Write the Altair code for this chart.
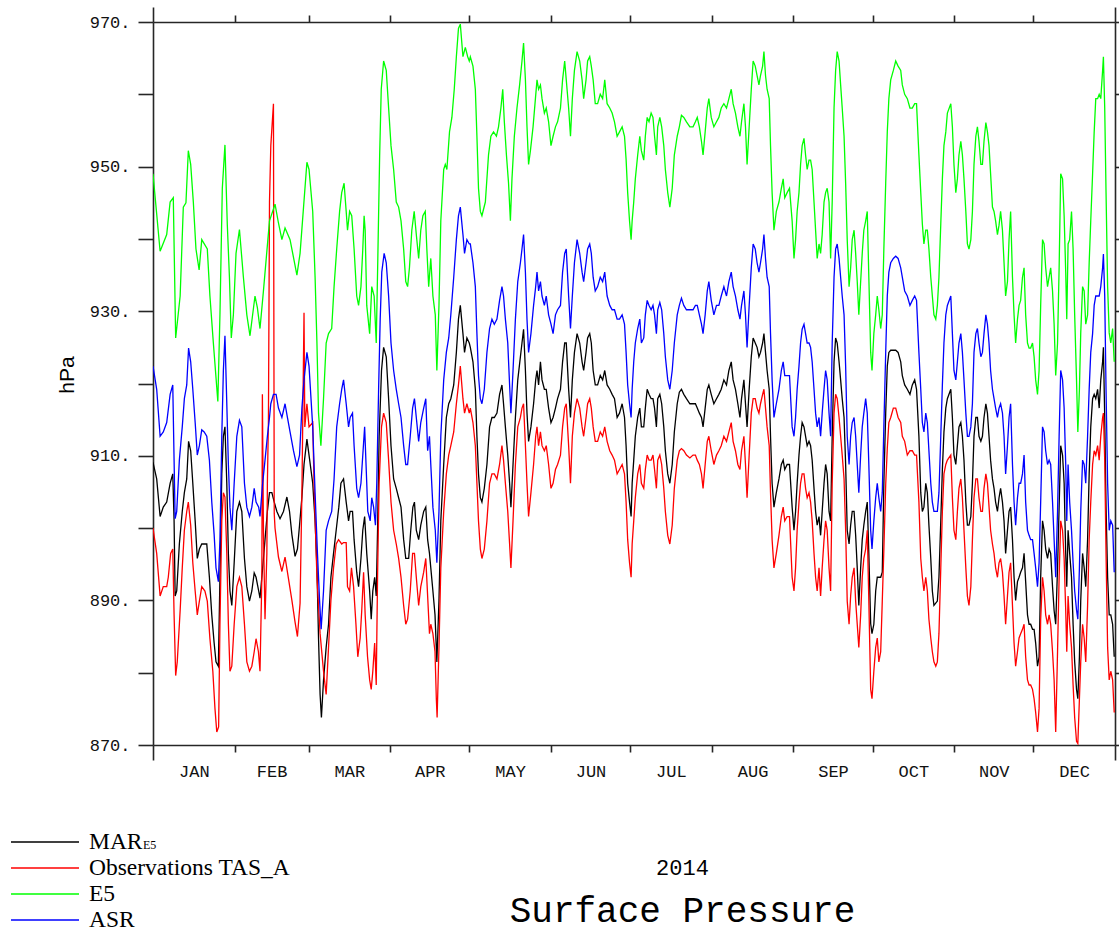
import json
import altair as alt
import pandas as pd

# ---------------- data ----------------
MONTHS = ["JAN", "FEB", "MAR", "APR", "MAY", "JUN", "JUL", "AUG", "SEP", "OCT", "NOV", "DEC"]
MONTH_STARTS = [0, 31, 59, 90, 120, 151, 181, 212, 243, 273, 304, 334, 365]
Y_TICKS = list(range(870, 971, 10))
SERIES = ["MAR_E5", "Observations TAS_A", "E5", "ASR"]
COLORS = ["#000000", "#ff0000", "#00ff00", "#0000ff"]

# (day of year 2014, surface pressure hPa)
MAR_E5 = [
    (0, 909.1), (1.4, 906.8), (2.7, 901.6), (3.9, 902.9), (5.2, 903.6), (6.5, 906.2), (7.5, 907.5), (8.0, 901.0),
    (8.4, 890.6), (9.0, 891.3), (10.0, 897.8), (11.1, 902.3), (11.9, 904.9), (12.8, 906.8), (13.5, 912.0), (14.3, 910.7),
    (15.1, 906.2), (16.0, 901.0), (16.8, 895.8), (17.6, 897.1), (18.5, 897.8), (19.4, 897.8), (20.4, 897.8), (21.4, 893.2),
    (22.3, 888.0), (23.2, 884.1), (23.9, 881.5), (24.8, 880.9), (25.4, 893.2), (26.1, 907.5), (26.7, 912.7), (27.3, 914.0),
    (28.0, 906.2), (28.6, 896.5), (29.2, 891.3), (29.9, 889.3), (30.8, 895.2), (31.8, 902.3), (32.8, 903.6), (33.7, 902.3),
    (34.7, 895.8), (35.6, 891.9), (36.6, 889.9), (37.5, 891.3), (38.4, 893.8), (39.1, 893.2), (40.1, 891.3), (40.6, 890.3),
    (41.6, 894.5), (42.5, 898.4), (43.4, 902.3), (44.2, 904.9), (45.1, 904.9), (46.0, 903.6), (47.0, 902.3), (48.2, 901.3),
    (49.5, 902.3), (50.8, 904.3), (51.8, 902.3), (52.7, 899.1), (53.9, 896.1), (54.8, 897.1), (55.6, 900.4), (56.5, 904.3),
    (57.3, 908.8), (58.4, 912.3), (59.2, 910.1),
    (60.6, 906.2), (61.5, 901.0), (62.2, 894.5), (62.8, 884.8), (63.4, 877.0), (63.9, 873.8), (64.7, 879.0), (65.7, 883.5),
    (66.6, 886.7), (67.5, 893.2), (68.5, 896.5), (69.5, 899.7), (70.5, 902.9), (71.3, 906.2), (72.3, 906.8), (73.3, 903.6),
    (74.2, 901.0), (74.8, 902.3), (75.7, 902.3), (76.3, 898.4), (77.3, 893.9), (78.0, 891.9), (78.9, 895.8), (79.6, 899.7),
    (80.3, 901.6), (81.1, 896.5), (82.2, 891.3), (82.8, 887.4), (83.4, 891.3), (84.1, 893.2), (84.7, 890.6), (85.2, 899.7),
    (85.8, 912.7), (86.7, 921.8), (87.5, 925.0), (88.5, 923.7), (89.4, 917.9), (90.3, 911.4), (91.3, 906.8), (92.3, 905.5),
    (93.2, 904.2), (94.1, 902.9), (95.1, 898.4), (95.9, 895.8), (97.0, 895.8), (97.8, 899.7), (98.6, 902.9), (99.2, 903.6),
    (99.9, 899.7), (100.8, 898.4), (101.6, 900.4), (102.7, 902.3), (103.5, 902.9), (104.2, 898.4), (104.9, 896.5), (105.4, 894.5),
    (106.2, 891.3), (107.0, 888.0), (107.7, 881.5), (108.5, 890.0), (109.2, 901.0), (110.3, 908.8), (111.3, 915.3), (112.2, 917.2),
    (113.0, 917.9), (114.1, 919.8), (115.1, 924.3), (115.9, 928.9), (116.6, 930.8), (117.6, 926.9), (118.2, 924.3), (119.1, 926.3),
    (120.0, 925.6),
    (120.4, 925.0), (121.4, 923.0), (122.3, 919.2), (122.9, 912.7), (123.5, 907.5), (124.2, 904.2), (124.8, 903.6), (125.7, 905.5),
    (126.7, 908.8), (127.7, 914.0), (128.6, 915.3), (129.5, 915.3), (130.5, 915.9), (131.5, 918.5), (132.4, 919.8), (133.0, 917.2),
    (133.7, 914.0), (134.6, 910.1), (135.3, 906.2), (135.8, 902.9), (136.6, 908.8), (137.5, 915.3), (138.4, 920.5), (139.4, 923.7),
    (140.0, 925.6), (140.6, 927.5), (141.3, 921.8), (141.9, 915.9), (142.5, 912.0), (143.4, 914.0), (144.4, 917.2), (145.2, 920.5),
    (145.7, 921.8), (146.3, 919.8), (147.0, 923.0), (147.6, 920.5), (148.5, 919.2), (149.2, 919.2), (150.1, 916.6), (151.0, 914.6),
    (151.8, 915.3), (152.7, 916.6), (153.5, 917.9), (154.6, 919.2), (155.4, 923.0), (156.2, 925.6), (156.8, 925.6), (157.7, 919.2),
    (158.4, 915.3), (159.1, 920.5), (159.9, 924.3), (160.9, 926.9), (161.9, 925.6), (162.8, 923.0), (163.4, 921.8), (164.3, 924.3),
    (164.9, 926.3), (165.7, 926.9), (166.3, 925.6), (167.0, 921.8), (167.8, 919.8), (168.7, 919.8), (169.7, 921.1), (170.6, 920.5),
    (171.4, 921.8), (172.3, 919.8), (173.3, 919.2), (174.2, 918.5), (175.1, 917.9), (176.1, 915.3), (177.0, 915.9), (178.0, 917.2),
    (178.9, 915.3), (179.5, 911.4), (180.1, 906.2), (180.8, 903.6), (181.4, 901.6),
    (181.8, 906.2), (182.4, 909.4), (183.0, 912.7), (183.9, 915.3), (184.7, 916.6), (185.3, 914.0), (186.2, 914.0), (186.8, 916.6),
    (187.5, 919.2), (188.2, 918.5), (189.0, 917.9), (189.7, 917.9), (190.3, 916.6), (191.0, 914.0), (191.5, 917.9), (192.3, 918.5),
    (193.0, 917.2), (193.8, 914.0), (194.4, 910.7), (195.3, 907.5), (196.1, 906.2), (197.0, 908.8), (197.8, 913.3), (198.9, 917.2),
    (199.7, 918.8), (200.5, 919.2), (201.4, 918.5), (202.4, 917.9), (203.7, 917.2), (204.9, 917.2), (205.8, 917.2), (206.5, 916.6),
    (207.3, 915.9), (208.1, 915.3), (208.7, 914.0), (209.5, 916.6), (210.3, 919.2), (210.9, 919.8), (211.8, 918.5), (212.8, 917.2),
    (213.8, 917.9), (214.7, 918.5), (215.6, 919.2), (216.6, 920.5), (217.6, 919.8), (218.5, 921.8), (219.4, 923.0), (220.1, 920.5),
    (221.0, 919.2), (221.9, 917.2), (222.7, 915.3), (223.3, 917.9), (224.2, 920.5), (224.8, 917.2), (225.4, 914.0), (226.2, 919.2),
    (227.0, 923.7), (227.7, 926.3), (228.5, 925.6), (229.2, 925.0), (229.9, 923.7), (230.5, 924.3), (231.3, 925.6), (231.8, 926.9),
    (232.4, 924.3), (233.0, 921.8), (233.8, 919.2), (234.3, 912.7), (234.9, 906.2), (235.6, 902.9), (236.5, 904.9), (237.5, 906.8),
    (238.4, 908.8), (239.1, 909.4), (239.7, 908.1), (240.6, 908.8), (241.5, 908.8),
    (242.5, 902.9), (243.2, 899.7), (243.8, 902.3), (244.4, 906.2), (245.1, 910.1), (245.7, 912.7), (246.3, 914.6), (247.0, 914.0),
    (247.6, 912.7), (248.2, 911.4), (248.9, 912.0), (249.5, 911.4), (250.1, 909.4), (250.8, 905.5), (251.4, 902.3), (252.0, 900.4),
    (252.7, 901.6), (253.3, 899.0), (253.9, 902.3), (254.6, 906.2), (255.2, 908.8), (255.8, 907.5), (256.5, 902.3), (257.1, 901.0),
    (257.7, 912.7), (258.4, 923.0), (259.0, 926.3), (259.6, 925.6), (260.3, 923.0), (260.9, 920.5), (261.5, 917.9), (262.2, 915.3),
    (262.8, 908.8), (263.4, 899.7), (264.1, 897.8), (264.7, 900.4), (265.3, 902.3), (266.0, 902.3), (266.6, 899.0), (267.2, 894.5),
    (267.8, 889.3), (268.5, 894.5), (269.1, 898.4), (269.7, 900.4), (270.4, 902.3), (271.0, 903.6), (271.6, 896.5), (272.3, 886.8),
    (272.8, 885.4), (273.5, 886.7), (274.2, 891.3), (274.8, 893.2), (275.4, 893.2), (276.1, 893.2), (276.7, 893.9), (277.3, 906.2),
    (278.0, 915.9), (278.6, 922.4), (279.2, 924.3), (279.9, 924.6), (280.9, 924.6), (281.8, 924.6), (282.7, 924.3), (283.7, 923.0),
    (284.3, 921.1), (285.2, 919.8), (286.2, 919.2), (287.2, 918.5), (288.1, 919.8), (289.0, 920.5), (289.7, 919.2), (290.6, 912.7),
    (291.3, 904.9), (291.9, 902.3), (292.5, 902.9), (293.2, 906.2), (293.8, 904.9), (294.4, 900.4), (295.1, 895.8), (295.7, 891.3),
    (296.3, 889.3), (297.6, 889.9), (298.2, 893.2), (298.9, 901.0), (299.5, 908.1), (300.1, 913.3), (300.8, 916.6), (301.4, 917.9),
    (302.7, 919.2), (303.3, 915.3), (303.9, 910.1), (304.6, 908.8), (305.2, 911.4), (305.8, 914.0), (306.5, 914.6), (307.1, 912.7),
    (307.7, 909.4), (308.4, 903.6), (309.0, 900.4), (309.6, 900.4), (310.3, 901.6), (310.9, 906.2), (311.5, 912.7), (312.2, 915.3),
    (312.8, 915.3), (313.4, 912.7), (314.1, 912.0), (314.7, 912.7), (315.3, 915.3), (316.0, 917.2), (316.6, 915.9), (317.2, 912.7),
    (317.8, 909.4), (318.5, 906.8), (319.1, 905.5), (319.7, 903.6), (320.4, 902.3), (321.0, 904.2), (321.6, 905.5), (322.3, 903.6),
    (322.9, 901.0), (323.5, 896.5), (324.2, 899.7), (324.8, 902.3), (325.4, 902.9), (326.1, 898.4), (326.7, 893.2), (327.3, 890.0),
    (328.0, 892.6), (328.6, 893.2), (329.2, 893.9), (329.9, 894.5), (330.5, 896.5), (331.1, 892.6), (331.8, 888.0), (332.4, 886.7),
    (333.0, 886.7), (333.7, 886.0), (334.3, 886.0), (334.9, 884.1), (335.6, 880.9), (336.2, 882.2), (336.8, 893.2), (337.5, 901.0),
    (338.1, 899.7), (338.7, 897.1), (339.4, 895.8), (340.0, 897.1), (340.6, 896.5), (341.3, 891.9), (341.9, 888.6), (342.5, 886.7),
    (343.2, 894.5), (343.8, 902.9), (344.4, 911.4), (345.1, 910.1), (345.7, 906.2), (346.3, 896.5), (346.7, 891.9), (347.2, 899.7),
    (347.8, 896.5), (348.5, 893.2), (349.1, 886.7), (349.7, 881.5), (350.4, 877.7), (350.9, 876.4), (351.5, 882.2), (352.0, 890.0),
    (352.7, 896.5), (353.3, 894.5), (353.9, 891.9), (354.6, 898.4), (355.2, 907.5), (355.8, 914.0), (356.5, 917.9), (357.1, 918.5),
    (357.7, 917.9), (358.4, 919.2), (359.0, 916.6), (359.6, 920.5), (360.3, 923.0), (360.6, 925.0), (361.1, 915.3), (361.6, 902.9),
    (362.2, 893.2), (362.8, 888.0), (363.4, 888.0), (364.1, 886.7), (364.7, 882.2),
]

OBS_TAS_A = [
    (0, 900.0), (1.4, 896.5), (2.7, 890.6), (3.9, 891.9), (5.2, 891.9), (5.8, 893.2), (6.7, 896.5), (7.5, 897.1),
    (8.0, 888.0), (8.6, 879.6), (9.2, 881.5), (10.3, 888.6), (11.1, 894.5), (11.9, 899.7), (12.8, 902.3), (13.4, 903.6),
    (14.3, 900.4), (15.1, 895.2), (16.0, 891.3), (16.8, 888.0), (17.6, 889.9), (18.5, 891.9), (19.7, 891.3), (20.6, 889.9),
    (21.6, 884.7), (22.7, 880.2), (23.5, 875.1), (24.2, 871.8), (24.9, 872.5), (25.4, 886.7), (26.1, 901.0), (26.7, 904.9),
    (27.3, 904.3), (28.0, 896.5), (28.6, 886.7), (29.2, 880.2), (29.9, 880.9), (30.8, 886.7), (31.8, 891.9), (32.8, 893.2),
    (33.7, 891.9), (34.7, 886.7), (35.6, 881.5), (36.6, 880.2), (37.5, 880.9), (38.4, 882.9), (39.1, 884.7), (40.0, 882.9),
    (40.6, 880.2), (41.3, 893.2), (41.5, 918.5), (41.9, 899.7), (42.5, 887.4), (43.2, 896.5), (43.4, 906.2), (43.8, 914.9),
    (44.2, 945.1), (44.7, 952.9), (45.7, 958.7), (46.0, 902.0), (46.3, 900.0), (47.6, 896.0), (48.9, 894.0), (50.1, 896.0),
    (51.4, 893.0), (52.7, 890.0), (53.9, 887.0), (54.8, 885.0), (55.8, 889.6), (56.5, 905.0), (57.3, 929.8), (57.6, 914.0),
    (58.4, 917.2), (59.2, 914.0),
    (60.6, 914.6), (61.1, 906.2), (62.2, 893.2), (63.4, 885.4), (64.7, 880.2), (65.7, 877.0), (66.6, 883.5), (67.5, 890.0),
    (68.5, 894.5), (69.5, 897.8), (70.4, 898.4), (71.6, 897.8), (72.3, 898.0), (73.3, 898.0), (73.8, 891.9), (74.6, 891.3),
    (75.3, 894.5), (76.1, 891.9), (77.0, 886.7), (77.7, 882.2), (78.6, 884.8), (79.2, 888.6), (79.9, 893.9), (80.5, 888.0),
    (81.4, 882.2), (82.2, 879.0), (82.8, 877.7), (83.4, 880.2), (84.1, 884.1), (84.7, 878.3), (85.2, 893.2), (85.8, 906.2),
    (86.7, 914.0), (87.5, 915.9), (88.5, 914.6), (89.4, 909.4), (90.3, 903.6), (91.3, 899.7), (92.3, 897.8), (93.2, 895.8),
    (94.1, 893.2), (95.1, 889.3), (95.9, 886.7), (96.6, 887.4), (97.6, 891.3), (98.5, 896.5), (99.2, 896.5), (99.9, 893.2),
    (100.8, 889.3), (101.6, 891.9), (102.7, 893.9), (103.5, 895.8), (104.2, 890.6), (104.9, 885.4), (105.4, 886.7), (106.2, 885.4),
    (107.0, 882.9), (107.5, 876.4), (107.8, 873.8), (108.5, 883.5), (109.2, 894.5), (110.3, 902.3), (111.3, 907.5), (112.2, 910.1),
    (113.0, 911.4), (114.1, 913.3), (115.1, 917.2), (115.9, 919.8), (116.6, 922.4), (117.6, 917.9), (118.2, 915.9), (119.1, 917.2),
    (120.0, 915.9),
    (120.4, 916.6), (121.4, 914.6), (122.3, 911.4), (122.9, 906.2), (123.5, 901.0), (124.2, 897.1), (124.8, 895.8), (125.7, 897.1),
    (126.7, 901.0), (127.7, 906.2), (128.6, 907.5), (129.5, 907.5), (130.5, 906.8), (131.5, 908.8), (132.4, 911.4), (133.0, 909.4),
    (133.7, 906.2), (134.6, 902.3), (135.3, 897.8), (135.8, 894.5), (136.6, 901.0), (137.5, 908.8), (138.4, 914.0), (139.4, 915.3),
    (140.0, 916.6), (140.6, 917.2), (141.3, 911.4), (141.9, 906.2), (142.5, 901.6), (143.4, 904.9), (144.4, 908.8), (145.2, 912.7),
    (145.7, 914.0), (146.3, 911.4), (147.0, 913.3), (147.6, 911.4), (148.5, 910.7), (149.2, 911.4), (150.1, 908.8), (151.0, 905.5),
    (151.8, 906.2), (152.7, 908.1), (153.5, 908.8), (154.6, 910.1), (155.4, 914.0), (156.2, 916.6), (156.8, 917.2), (157.7, 911.4),
    (158.4, 906.2), (159.1, 912.7), (159.9, 915.9), (160.9, 917.9), (161.9, 916.6), (162.8, 914.0), (163.4, 912.7), (164.3, 915.3),
    (164.9, 917.2), (165.7, 917.9), (166.3, 916.6), (167.0, 914.0), (167.8, 912.0), (168.7, 912.0), (169.7, 913.3), (170.6, 912.7),
    (171.4, 914.0), (172.3, 912.0), (173.3, 910.7), (174.2, 910.1), (175.1, 909.4), (176.1, 907.5), (177.0, 908.1), (178.0, 908.8),
    (178.9, 907.5), (179.5, 903.6), (180.1, 898.4), (180.8, 895.2), (181.4, 893.2),
    (181.8, 897.8), (182.4, 901.0), (183.0, 904.2), (183.9, 907.5), (184.7, 908.8), (185.3, 906.2), (186.2, 905.5), (186.8, 908.1),
    (187.5, 910.1), (188.2, 909.4), (189.0, 909.4), (189.7, 910.1), (190.3, 908.1), (191.0, 905.5), (191.5, 909.4), (192.3, 910.1),
    (193.0, 908.8), (193.8, 905.5), (194.4, 902.3), (195.3, 899.0), (196.1, 897.8), (197.0, 900.4), (197.8, 905.5), (198.9, 909.4),
    (199.7, 910.7), (200.5, 911.0), (201.4, 910.7), (202.4, 910.1), (203.7, 909.7), (204.9, 910.1), (205.8, 910.1), (206.5, 909.4),
    (207.3, 908.8), (208.1, 907.5), (208.7, 905.5), (209.5, 908.8), (210.3, 912.0), (210.9, 912.7), (211.8, 910.7), (212.8, 908.8),
    (213.8, 910.1), (214.7, 910.7), (215.6, 911.4), (216.6, 912.7), (217.6, 912.0), (218.5, 913.3), (219.4, 914.6), (220.1, 912.0),
    (221.0, 910.7), (221.9, 908.8), (222.7, 908.1), (223.3, 910.7), (224.2, 912.7), (224.8, 908.8), (225.4, 904.2), (226.2, 910.1),
    (227.0, 915.9), (227.7, 917.9), (228.5, 917.9), (229.2, 916.6), (229.9, 915.9), (230.5, 917.2), (231.3, 918.5), (231.8, 919.2),
    (232.4, 916.6), (233.0, 914.0), (233.8, 911.4), (234.3, 904.9), (234.9, 898.4), (235.6, 894.5), (236.5, 896.5), (237.5, 899.0),
    (238.4, 901.6), (239.1, 902.9), (239.7, 901.0), (240.6, 901.6), (241.5, 901.6),
    (242.5, 893.2), (243.2, 891.3), (243.8, 894.5), (244.4, 899.7), (245.1, 903.6), (245.7, 906.2), (246.3, 907.5), (247.0, 907.5),
    (247.6, 905.5), (248.2, 904.2), (248.9, 904.9), (249.5, 903.6), (250.1, 901.0), (250.8, 896.5), (251.4, 893.2), (252.0, 891.3),
    (252.7, 894.5), (253.3, 890.6), (253.9, 894.5), (254.6, 898.4), (255.2, 901.0), (255.8, 899.7), (256.5, 894.5), (257.1, 891.3),
    (257.7, 906.2), (258.4, 915.9), (259.0, 918.5), (259.6, 917.9), (260.3, 915.3), (260.9, 912.7), (261.5, 910.1), (262.2, 906.8),
    (262.8, 899.7), (263.4, 889.9), (264.1, 886.7), (264.7, 890.6), (265.3, 893.2), (266.0, 894.5), (266.6, 889.9), (267.2, 886.7),
    (267.8, 883.5), (268.5, 888.0), (269.1, 893.2), (269.7, 895.8), (270.4, 897.1), (271.0, 899.7), (271.6, 889.9), (272.3, 877.7),
    (272.8, 876.4), (273.5, 880.2), (274.2, 883.5), (274.8, 884.8), (275.4, 881.5), (276.1, 882.9), (276.7, 889.9), (277.3, 897.0),
    (278.0, 906.0), (278.6, 911.0), (279.2, 914.6), (279.9, 915.3), (280.9, 916.6), (281.8, 916.6), (282.7, 915.3), (283.7, 914.6),
    (284.3, 912.7), (285.2, 912.0), (286.2, 910.1), (287.2, 910.7), (288.1, 910.7), (289.0, 910.1), (289.7, 910.1), (290.6, 903.6),
    (291.3, 895.8), (291.9, 893.2), (292.5, 891.3), (293.2, 893.2), (293.8, 891.3), (294.4, 887.4), (295.1, 884.8), (295.7, 882.9),
    (296.3, 881.5), (297.0, 880.9), (297.6, 881.5), (298.2, 885.4), (298.9, 894.5), (299.5, 902.3), (300.1, 907.5), (300.8, 908.8),
    (301.4, 909.4),
    (302.7, 910.1), (303.3, 904.2), (303.9, 899.7), (304.6, 898.4), (305.2, 902.3), (305.8, 905.5), (306.5, 906.8), (307.1, 904.2),
    (307.7, 899.7), (308.4, 894.5), (309.0, 890.6), (309.6, 889.3), (310.3, 891.9), (310.9, 898.4), (311.5, 904.2), (312.2, 906.8),
    (312.8, 906.8), (313.4, 904.2), (314.1, 902.3), (314.7, 902.3), (315.3, 905.5), (316.0, 907.5), (316.6, 906.2), (317.2, 903.0),
    (317.8, 899.7), (318.5, 897.8), (319.1, 896.5), (319.7, 894.5), (320.4, 893.2), (321.0, 895.2), (321.6, 895.8), (322.3, 893.9),
    (322.9, 890.6), (323.5, 886.7), (324.2, 890.6), (324.8, 893.9), (325.4, 895.2), (326.1, 889.3), (326.7, 884.1), (327.3, 880.9),
    (328.0, 882.9), (328.6, 884.8), (329.2, 885.4), (329.9, 886.0), (330.5, 886.7), (331.1, 882.2), (331.8, 879.0), (332.4, 878.3),
    (333.0, 878.3), (333.7, 877.7), (334.3, 876.4), (334.9, 874.5), (335.6, 871.8), (336.2, 875.1), (336.8, 887.4), (337.5, 893.2),
    (338.1, 891.3), (338.7, 888.0), (339.4, 886.7), (340.0, 888.0), (340.6, 886.7), (341.3, 882.9), (341.9, 879.0), (342.5, 871.8),
    (343.2, 882.9), (343.8, 893.2), (344.4, 901.0), (345.1, 899.7), (345.7, 895.8), (346.3, 888.6), (346.7, 882.9), (347.2, 890.6),
    (347.8, 886.7), (348.5, 883.5), (349.1, 878.3), (349.7, 873.8), (350.4, 870.5), (350.9, 870.2), (351.5, 876.4), (352.0, 881.5),
    (352.7, 886.7), (353.3, 884.8), (353.9, 881.5), (354.6, 889.3), (355.2, 898.4), (355.8, 903.6), (356.5, 908.8), (357.1, 910.7),
    (357.7, 910.1), (358.4, 911.4), (359.0, 909.4), (359.6, 912.7), (360.3, 915.3), (360.6, 915.9), (361.1, 909.4), (361.6, 896.5),
    (362.2, 883.5), (362.8, 879.0), (363.4, 880.2), (364.1, 879.0), (364.7, 874.5),
]

E5 = [
    (0, 949.0), (2.7, 938.3), (5.2, 940.6), (6.5, 945.1), (7.7, 945.7), (8.6, 926.3), (10.3, 932.1), (11.5, 944.4),
    (12.5, 945.0), (13.4, 952.2), (14.3, 950.3), (15.3, 945.1), (16.3, 938.6), (17.5, 935.7), (18.5, 939.9), (20.6, 938.6),
    (21.6, 932.1), (22.9, 925.6), (24.6, 917.5), (25.4, 929.5), (26.3, 947.0), (27.3, 953.0), (28.2, 941.9), (29.0, 934.7),
    (29.7, 926.3), (30.5, 929.5), (31.5, 938.0), (32.8, 941.3), (34.3, 934.7), (35.6, 929.5), (36.8, 926.6), (38.7, 932.1),
    (39.6, 930.5), (40.6, 927.6), (41.9, 932.8), (44.2, 942.5), (46.3, 944.8), (47.6, 942.2), (48.9, 939.9), (50.1, 941.5),
    (52.0, 939.9), (54.6, 935.0), (55.8, 938.0), (58.4, 950.6), (59.2, 949.6),
    (60.6, 943.8), (61.5, 934.7), (62.2, 925.6), (62.8, 915.9), (63.7, 911.4), (64.7, 917.9), (65.7, 925.6), (66.6, 926.9),
    (67.8, 927.6), (68.7, 933.4), (69.7, 938.6), (70.8, 943.8), (71.6, 946.4), (72.5, 947.7), (73.3, 943.8), (73.8, 941.2),
    (74.6, 943.8), (75.4, 943.2), (76.3, 938.6), (77.3, 932.1), (78.0, 930.8), (78.9, 933.4), (79.6, 938.6), (80.1, 943.2),
    (80.5, 941.2), (81.1, 930.8), (82.2, 926.9), (83.0, 933.4), (83.9, 932.1), (84.7, 925.6), (85.3, 937.3), (86.0, 951.6),
    (86.6, 960.7), (87.5, 964.6), (88.5, 963.3), (89.4, 958.1), (90.3, 952.9), (91.3, 949.6), (92.3, 945.1), (93.2, 944.4),
    (94.1, 942.5), (95.1, 938.6), (95.9, 934.1), (96.6, 933.4), (97.3, 936.0), (98.2, 941.2), (99.1, 943.8), (99.9, 940.6),
    (100.8, 937.3), (101.6, 941.2), (102.4, 943.2), (103.3, 943.8), (103.9, 938.6), (104.6, 933.4), (105.4, 937.3), (106.2, 932.1),
    (107.1, 929.5), (107.7, 921.8), (108.5, 930.8), (109.2, 942.5), (110.3, 949.6), (110.9, 950.3), (111.5, 949.6), (112.5, 954.8),
    (113.4, 956.8), (114.3, 960.7), (115.1, 965.2), (115.9, 969.1), (116.6, 969.7), (117.6, 965.2), (118.5, 966.5), (119.4, 965.2),
    (120.0, 964.6),
    (120.4, 965.2), (121.4, 963.9), (122.3, 960.7), (122.9, 954.2), (123.5, 947.0), (124.2, 943.8), (124.8, 943.2), (126.1, 945.1),
    (127.3, 951.6), (128.2, 954.2), (129.2, 954.8), (130.3, 954.2), (131.1, 955.5), (132.0, 958.1), (132.7, 960.7), (133.3, 956.2),
    (134.1, 951.6), (134.9, 947.7), (135.6, 942.5), (136.2, 948.3), (137.1, 954.2), (138.1, 958.1), (139.1, 961.3), (140.0, 964.6),
    (140.6, 967.1), (141.3, 962.0), (141.9, 955.5), (142.5, 950.3), (143.2, 952.2), (144.2, 955.5), (145.1, 959.4), (145.7, 962.0),
    (146.3, 960.7), (147.0, 961.3), (147.6, 959.4), (148.5, 957.4), (149.2, 958.1), (150.1, 956.2), (151.0, 952.9), (151.8, 954.2),
    (152.7, 955.5), (153.5, 956.2), (154.6, 958.1), (155.4, 962.0), (156.2, 964.6), (156.8, 962.0), (157.7, 958.1), (158.4, 954.2),
    (159.1, 959.4), (159.9, 963.3), (160.9, 965.9), (161.9, 964.6), (162.8, 962.0), (163.4, 959.4), (164.3, 962.0), (164.9, 964.6),
    (165.7, 965.2), (166.3, 963.9), (167.0, 962.0), (167.8, 958.7), (168.7, 958.7), (169.7, 960.0), (170.6, 959.4), (171.4, 962.0),
    (172.3, 958.7), (173.3, 958.1), (174.2, 957.4), (175.1, 956.2), (176.1, 954.2), (177.0, 954.8), (178.0, 955.5), (178.9, 954.2),
    (179.5, 951.0), (180.1, 946.4), (180.8, 942.5), (181.4, 939.9),
    (181.8, 942.5), (182.4, 945.1), (183.0, 948.3), (183.9, 951.6), (184.7, 954.2), (185.3, 952.2), (186.2, 950.9), (186.8, 954.2),
    (187.5, 956.8), (188.2, 956.2), (189.0, 957.4), (189.7, 956.8), (190.3, 954.2), (191.0, 951.6), (191.5, 955.5), (192.3, 956.8),
    (193.0, 955.5), (193.8, 952.9), (194.4, 949.6), (195.3, 946.4), (196.1, 944.4), (197.0, 947.0), (197.8, 951.6), (198.9, 954.2),
    (199.7, 955.5), (200.5, 957.1), (201.4, 956.8), (202.4, 956.2), (203.7, 955.5), (204.9, 955.5), (205.8, 956.2), (206.5, 956.8),
    (207.3, 955.5), (208.1, 953.5), (208.7, 951.6), (209.5, 954.8), (210.3, 958.1), (210.9, 959.4), (211.8, 956.8), (212.8, 955.5),
    (213.8, 956.2), (214.7, 956.8), (215.6, 958.1), (216.6, 958.7), (217.6, 958.1), (218.5, 959.4), (219.4, 960.7), (220.1, 958.7),
    (221.0, 957.4), (221.9, 955.5), (222.7, 954.2), (223.3, 956.2), (224.2, 958.7), (224.8, 955.5), (225.4, 950.3), (226.2, 955.5),
    (227.0, 960.7), (227.7, 964.6), (228.5, 963.9), (229.2, 962.6), (229.9, 961.3), (230.5, 962.6), (231.3, 963.9), (231.8, 965.9),
    (232.4, 962.6), (233.0, 960.7), (233.8, 959.4), (234.3, 952.9), (234.9, 946.4), (235.6, 941.2), (236.5, 943.8), (237.5, 945.1),
    (238.4, 947.0), (239.1, 948.3), (239.7, 945.7), (240.6, 946.4), (241.5, 947.0),
    (242.5, 942.5), (243.2, 937.3), (243.8, 939.9), (244.4, 943.8), (245.1, 946.4), (245.7, 950.3), (246.3, 952.9), (247.0, 953.9),
    (247.6, 951.6), (248.2, 949.6), (248.9, 950.9), (249.5, 950.9), (250.1, 949.6), (250.8, 945.1), (251.4, 941.2), (252.0, 937.3),
    (252.7, 939.3), (253.3, 938.0), (253.9, 940.6), (254.6, 945.1), (255.2, 946.4), (255.8, 947.0), (256.5, 945.1), (257.1, 937.3),
    (257.7, 945.1), (258.4, 958.1), (259.0, 963.3), (259.6, 965.9), (260.3, 964.6), (260.9, 961.3), (261.5, 958.1), (262.2, 954.2),
    (262.8, 947.7), (263.4, 939.9), (264.1, 933.4), (264.7, 936.0), (265.3, 939.9), (266.0, 941.2), (266.6, 938.0), (267.2, 934.1),
    (267.8, 929.5), (268.5, 934.1), (269.1, 938.0), (269.7, 941.2), (270.4, 942.5), (271.0, 943.8), (271.6, 934.7), (272.3, 924.3),
    (272.8, 921.8), (273.5, 926.9), (274.2, 929.5), (274.8, 932.1), (275.4, 930.2), (276.1, 927.6), (276.7, 929.5), (277.3, 938.6),
    (278.0, 947.7), (278.6, 954.8), (279.2, 959.4), (279.9, 962.0), (280.9, 963.3), (281.8, 964.6), (282.7, 963.9), (283.7, 963.3),
    (284.3, 961.3), (285.2, 960.0), (286.2, 959.4), (287.2, 958.1), (288.1, 958.1), (289.0, 958.7), (289.7, 958.7), (290.6, 951.6),
    (291.3, 946.4), (291.9, 942.1), (292.5, 939.3), (293.2, 941.2), (293.8, 941.2), (294.4, 938.6), (295.1, 934.7), (295.7, 932.1),
    (296.3, 929.5), (297.0, 928.9), (297.6, 930.8), (298.2, 934.7), (298.9, 942.1), (299.5, 948.3), (300.1, 952.9), (300.8, 954.8),
    (301.4, 957.4),
    (302.7, 958.7), (303.3, 955.5), (303.9, 950.3), (304.6, 946.4), (305.2, 948.3), (305.8, 951.6), (306.5, 953.5), (307.1, 951.6),
    (307.7, 948.3), (308.4, 943.8), (309.0, 939.3), (309.6, 938.6), (310.3, 939.9), (310.9, 943.8), (311.5, 950.3), (312.2, 954.2),
    (312.8, 955.5), (313.4, 953.5), (314.1, 950.3), (314.7, 950.3), (315.3, 953.5), (316.0, 956.1), (316.6, 954.8), (317.2, 952.9),
    (317.8, 949.0), (318.5, 944.4), (319.1, 943.8), (319.7, 942.5), (320.4, 940.6), (321.0, 941.9), (321.6, 943.8), (322.3, 941.2),
    (322.9, 936.7), (323.5, 932.1), (324.2, 934.1), (324.8, 939.9), (325.4, 943.8), (326.1, 934.7), (326.7, 929.5), (327.3, 925.6),
    (328.0, 928.9), (328.6, 930.8), (329.2, 931.5), (329.9, 934.7), (330.5, 936.0), (331.1, 929.5), (331.8, 925.6), (332.4, 924.9),
    (333.0, 924.9), (333.7, 925.6), (334.3, 923.7), (334.9, 920.5), (335.6, 918.5), (336.2, 921.8), (336.8, 930.8), (337.5, 939.9),
    (338.1, 939.3), (338.7, 936.0), (339.4, 933.4), (340.0, 934.7), (340.6, 936.0), (341.3, 932.8), (341.9, 928.2), (342.5, 921.1),
    (343.2, 925.6), (343.8, 936.0), (344.4, 949.0), (345.1, 948.3), (345.7, 943.2), (346.3, 935.4), (346.7, 928.9), (347.2, 939.3),
    (347.8, 939.9), (348.5, 943.8), (349.1, 938.6), (349.7, 929.5), (350.4, 920.5), (350.9, 913.3), (351.5, 919.2), (352.0, 927.0),
    (352.7, 933.4), (353.3, 932.8), (353.9, 928.2), (354.6, 929.5), (355.2, 936.7), (355.8, 942.5), (356.5, 949.0), (357.1, 954.8),
    (357.7, 959.4), (358.4, 959.4), (359.0, 960.0), (359.6, 959.4), (360.3, 963.3), (360.6, 965.2), (361.1, 958.1), (361.6, 946.4),
    (362.2, 933.4), (362.8, 927.0), (363.4, 925.6), (364.1, 927.6), (364.7, 923.0),
]

ASR = [
    (0, 922.4), (1.4, 919.2), (2.7, 912.7), (3.9, 913.3), (5.2, 914.6), (6.5, 918.5), (7.5, 919.8), (8.0, 909.4),
    (8.4, 901.3), (9.0, 902.3), (10.0, 909.4), (11.1, 914.0), (11.9, 917.9), (12.8, 919.8), (13.5, 924.9), (14.3, 923.0),
    (15.1, 919.2), (16.0, 914.6), (16.8, 910.1), (17.6, 911.4), (18.5, 913.6), (19.4, 913.3), (20.4, 912.7), (21.4, 909.4),
    (22.3, 903.6), (23.2, 899.1), (23.9, 894.5), (24.8, 892.6), (25.4, 898.4), (26.1, 912.7), (26.7, 921.8), (27.3, 926.6),
    (28.0, 917.2), (28.6, 908.8), (29.2, 902.9), (29.9, 899.7), (30.8, 906.2), (31.8, 912.7), (32.8, 914.9), (33.7, 914.0),
    (34.7, 906.2), (35.6, 902.9), (36.6, 901.6), (37.5, 902.9), (38.4, 905.5), (39.1, 903.6), (40.1, 902.9), (40.6, 901.6),
    (41.6, 906.2), (42.5, 909.4), (43.4, 912.7), (44.2, 915.3), (44.7, 917.2), (45.7, 918.5), (46.7, 918.5), (47.6, 916.6),
    (48.9, 915.3), (50.1, 917.2), (51.0, 915.3), (52.0, 913.3), (53.3, 910.7), (54.6, 908.5), (55.6, 910.1), (56.5, 916.6),
    (57.3, 920.5), (58.4, 924.3), (59.2, 922.4),
    (60.6, 914.0), (61.5, 904.9), (62.4, 896.5), (63.2, 890.0), (63.8, 886.0), (64.7, 891.3), (65.7, 899.7), (66.6, 901.0),
    (67.8, 902.3), (68.7, 906.8), (69.7, 914.0), (70.8, 917.2), (71.6, 919.2), (72.3, 920.5), (73.3, 917.2), (74.2, 914.0),
    (74.8, 915.3), (75.7, 915.9), (76.3, 911.4), (77.3, 905.5), (78.0, 904.2), (78.9, 906.2), (79.6, 910.1), (80.3, 914.0),
    (80.8, 909.1), (81.5, 902.3), (82.4, 901.0), (83.0, 904.2), (83.7, 902.9), (84.4, 900.4), (84.9, 906.2), (85.6, 919.2),
    (86.2, 928.9), (86.8, 935.4), (87.7, 938.0), (88.5, 936.7), (89.4, 932.1), (90.3, 925.6), (91.3, 921.8), (92.3, 919.2),
    (93.2, 917.2), (94.1, 915.3), (95.1, 911.4), (95.9, 908.8), (96.6, 908.8), (97.6, 912.7), (98.5, 916.6), (99.2, 917.9),
    (99.9, 915.3), (100.8, 912.0), (101.6, 914.6), (102.7, 916.6), (103.5, 917.9), (104.2, 910.7), (104.9, 912.7), (105.4, 908.8),
    (106.2, 902.9), (107.1, 899.7), (107.7, 895.2), (108.5, 902.3), (109.2, 912.7), (110.3, 920.5), (111.3, 924.3), (112.2, 926.3),
    (113.0, 929.5), (114.1, 934.7), (115.1, 939.9), (115.9, 943.2), (116.6, 944.4), (117.6, 940.6), (118.2, 938.0), (119.1, 939.9),
    (120.0, 939.3),
    (120.4, 939.3), (121.4, 936.7), (122.3, 933.4), (122.9, 926.9), (123.5, 921.1), (124.2, 917.9), (124.8, 917.2), (125.7, 919.2),
    (126.7, 924.3), (127.7, 927.6), (128.6, 928.9), (129.5, 928.2), (130.5, 928.9), (131.5, 931.5), (132.4, 933.4), (133.0, 932.1),
    (133.7, 928.9), (134.6, 925.6), (135.3, 919.8), (135.8, 915.9), (136.6, 921.8), (137.5, 928.9), (138.4, 934.1), (139.4, 936.7),
    (140.0, 938.6), (140.6, 940.6), (141.3, 935.4), (141.9, 928.9), (142.5, 924.3), (143.4, 926.9), (144.4, 930.8), (145.2, 933.4),
    (145.7, 935.4), (146.3, 932.8), (147.0, 934.1), (147.6, 932.1), (148.5, 930.8), (149.2, 932.1), (150.1, 929.5), (151.0, 928.2),
    (151.8, 926.9), (152.7, 929.5), (153.5, 930.2), (154.6, 930.8), (155.4, 935.4), (156.2, 938.0), (156.8, 938.6), (157.7, 932.1),
    (158.4, 927.6), (159.1, 932.1), (159.9, 936.7), (160.9, 939.9), (161.9, 938.0), (162.8, 935.4), (163.4, 934.1), (164.3, 936.7),
    (164.9, 938.6), (165.7, 939.3), (166.3, 938.0), (167.0, 934.7), (167.8, 932.8), (168.7, 933.4), (169.7, 934.7), (170.6, 934.1),
    (171.4, 935.4), (172.3, 932.1), (173.3, 930.8), (174.2, 930.2), (175.1, 930.2), (176.1, 928.9), (177.0, 928.9), (178.0, 929.5),
    (178.9, 928.2), (179.5, 924.3), (180.1, 919.8), (180.8, 917.2), (181.4, 915.3),
    (181.8, 919.2), (182.4, 923.0), (183.0, 925.6), (183.9, 927.6), (184.7, 928.9), (185.3, 925.6), (186.2, 926.3), (186.8, 929.5),
    (187.5, 931.5), (188.2, 930.8), (189.0, 930.2), (189.7, 930.8), (190.3, 929.5), (191.0, 926.9), (191.5, 930.2), (192.3, 931.2),
    (193.0, 930.2), (193.8, 926.9), (194.4, 923.7), (195.3, 920.5), (196.1, 919.2), (197.0, 921.8), (197.8, 925.6), (198.9, 929.5),
    (199.7, 930.8), (200.5, 931.8), (201.4, 930.8), (202.4, 930.2), (203.7, 930.2), (204.9, 930.2), (205.8, 930.8), (206.5, 930.8),
    (207.3, 929.5), (208.1, 928.2), (208.7, 926.9), (209.5, 929.5), (210.3, 932.8), (210.9, 934.1), (211.8, 931.5), (212.8, 929.5),
    (213.8, 930.8), (214.7, 930.8), (215.6, 932.1), (216.6, 933.4), (217.6, 932.1), (218.5, 934.1), (219.4, 935.4), (220.1, 933.4),
    (221.0, 932.1), (221.9, 930.2), (222.7, 928.9), (223.3, 930.8), (224.2, 932.8), (224.8, 929.5), (225.4, 925.0), (226.2, 930.8),
    (227.0, 936.0), (227.7, 939.3), (228.5, 938.6), (229.2, 936.7), (229.9, 935.4), (230.5, 936.7), (231.3, 938.6), (231.8, 940.6),
    (232.4, 937.3), (233.0, 934.7), (233.8, 933.4), (234.3, 926.9), (234.9, 920.5), (235.6, 915.3), (236.5, 917.2), (237.5, 919.2),
    (238.4, 921.8), (239.1, 923.0), (239.7, 921.1), (240.6, 921.1), (241.5, 921.1),
    (242.5, 914.0), (243.2, 912.7), (243.8, 915.3), (244.4, 919.2), (245.1, 922.4), (245.7, 925.6), (246.3, 927.5), (247.0, 928.2),
    (247.6, 926.9), (248.2, 925.6), (248.9, 925.6), (249.5, 925.0), (250.1, 923.0), (250.8, 919.2), (251.4, 915.9), (252.0, 914.0),
    (252.7, 915.3), (253.3, 912.7), (253.9, 915.9), (254.6, 919.2), (255.2, 921.8), (255.8, 920.5), (256.5, 915.9), (257.1, 912.7),
    (257.7, 925.6), (258.4, 934.7), (259.0, 938.6), (259.6, 939.3), (260.3, 937.3), (260.9, 934.7), (261.5, 932.1), (262.2, 929.5),
    (262.8, 922.4), (263.4, 912.7), (264.1, 908.8), (264.7, 912.7), (265.3, 914.6), (266.0, 915.3), (266.6, 912.7), (267.2, 908.8),
    (267.8, 904.9), (268.5, 910.1), (269.1, 914.0), (269.7, 915.9), (270.4, 917.9), (271.0, 915.9), (271.6, 908.8), (272.3, 899.7),
    (272.8, 897.1), (273.5, 901.0), (274.2, 904.2), (274.8, 906.2), (275.4, 904.2), (276.1, 902.3), (276.7, 904.9), (277.3, 914.0),
    (278.0, 924.3), (278.6, 932.1), (279.2, 935.4), (279.9, 936.7), (280.9, 937.3), (281.8, 937.6), (282.7, 937.3), (283.7, 936.0),
    (284.3, 934.7), (285.2, 932.8), (286.2, 932.1), (287.2, 930.8), (288.1, 931.5), (289.0, 932.1), (289.7, 931.5), (290.6, 924.3),
    (291.3, 919.2), (291.9, 914.6), (292.5, 913.3), (293.2, 915.9), (293.8, 914.6), (294.4, 910.7), (295.1, 906.2), (295.7, 903.6),
    (296.3, 902.3), (297.6, 902.3), (298.2, 904.9), (298.9, 912.7), (299.5, 919.8), (300.1, 925.6), (300.8, 929.5), (301.4, 930.8),
    (302.7, 932.1), (303.3, 926.9), (303.9, 921.8), (304.6, 920.5), (305.2, 923.0), (305.8, 925.6), (306.5, 926.9), (307.1, 924.3),
    (307.7, 920.5), (308.4, 915.9), (309.0, 912.7), (309.6, 912.7), (310.3, 914.0), (310.9, 917.2), (311.5, 924.3), (312.2, 926.9),
    (312.8, 927.6), (313.4, 925.6), (314.1, 923.7), (314.7, 924.3), (315.3, 926.9), (316.0, 929.5), (316.6, 928.2), (317.2, 925.6),
    (317.8, 921.8), (318.5, 919.2), (319.1, 917.9), (319.7, 916.6), (320.4, 915.3), (321.0, 916.6), (321.6, 917.2), (322.3, 915.9),
    (322.9, 912.7), (323.5, 907.5), (324.2, 911.4), (324.8, 915.3), (325.4, 917.2), (326.1, 908.8), (326.7, 903.6), (327.3, 900.4),
    (328.0, 904.2), (328.6, 906.2), (329.2, 906.2), (329.9, 907.5), (330.5, 910.1), (331.1, 903.6), (331.8, 899.7), (332.4, 899.0),
    (333.0, 898.4), (333.7, 898.4), (334.3, 896.5), (334.9, 894.5), (335.6, 891.9), (336.2, 895.2), (336.8, 903.6), (337.5, 914.0),
    (338.1, 913.3), (338.7, 910.7), (339.4, 908.8), (340.0, 909.4), (340.6, 908.8), (341.3, 903.6), (341.9, 898.4), (342.5, 893.2),
    (343.2, 902.3), (343.8, 912.7), (344.4, 921.8), (345.1, 920.5), (345.7, 916.6), (346.3, 908.8), (346.7, 901.0), (347.2, 908.8),
    (347.8, 903.6), (348.5, 899.7), (349.1, 895.2), (349.7, 891.3), (350.4, 888.7), (350.9, 887.4), (351.5, 894.5), (352.0, 902.3),
    (352.7, 909.4), (353.3, 908.8), (353.9, 906.2), (354.6, 912.7), (355.2, 919.2), (355.8, 924.3), (356.5, 926.9), (357.1, 930.8),
    (357.7, 932.1), (358.4, 932.1), (359.0, 932.1), (359.6, 933.4), (360.3, 936.0), (360.6, 937.9), (361.1, 932.1), (361.6, 919.2),
    (362.2, 906.2), (362.8, 899.7), (363.4, 901.0), (364.1, 900.4), (364.7, 893.9),
]

rows = []
for name, pts in zip(SERIES, [MAR_E5, OBS_TAS_A, E5, ASR]):
    for d, v in pts:
        rows.append({"series": name, "day": d, "hPa": v})
df = pd.DataFrame(rows)

month_mids = [(a + b) / 2 for a, b in zip(MONTH_STARTS[:-1], MONTH_STARTS[1:])]

# ---------------- layout ----------------
W, H = 962, 723
PAD = {"left": 153, "top": 22, "right": 4, "bottom": 190}

xs = alt.Scale(domain=[0, 365], nice=False, zero=False)
ys = alt.Scale(domain=[870, 970], nice=False, zero=False)

AX = dict(domainColor="#262626", domainWidth=1.6, tickColor="#262626", tickWidth=1.6, grid=False, title=None)
end_tick = {"condition": {"test": "datum.value == 0 || datum.value == 365", "value": 15}, "value": 7}
TICK_FONT = "Liberation Mono"

lines = alt.Chart(df).mark_line(strokeWidth=1.3, clip=True).encode(
    x=alt.X("day:Q", scale=xs,
            axis=alt.Axis(orient="bottom", values=MONTH_STARTS, labels=False, tickSize=end_tick, **AX)),
    y=alt.Y("hPa:Q", scale=ys,
            axis=alt.Axis(orient="left", values=Y_TICKS, tickSize=15,
                          labelExpr="datum.value % 20 == 10 ? datum.value + '.' : ''",
                          labelFont=TICK_FONT, labelFontSize=17, labelColor="#111",
                          labelPadding=8, labelOverlap=False, **AX)),
    color=alt.Color("series:N", scale=alt.Scale(domain=SERIES, range=COLORS),
                    legend=alt.Legend(orient="none", legendX=-143, legendY=807, direction="vertical",
                                      title=None, symbolType="stroke", symbolSize=4624,
                                      symbolStrokeWidth=1.5, symbolOffset=0,
                                      labelFont="Liberation Serif", labelFontSize=23.5, labelColor="#000",
                                      labelOffset=9, labelLimit=500, clipHeight=26, rowPadding=0, padding=0,
                                      labelExpr="datum.label == 'MAR_E5' ? 'MAR' : datum.label")),
    detail="series:N",
)

month_expr = json.dumps(MONTHS) + "[floor(datum.value / 30.5)]"

labels_layer = alt.Chart(df).mark_point(opacity=0, size=0).encode(
    x=alt.X("day:Q", scale=xs,
            axis=alt.Axis(orient="bottom", values=month_mids, labelExpr=month_expr, ticks=False, domain=False,
                          labelPadding=18, labelFont=TICK_FONT, labelFontSize=17, labelColor="#111",
                          labelFlush=False, labelOverlap=False, grid=False, title=None)),
    y=alt.Y("hPa:Q", scale=ys,
            axis=alt.Axis(orient="right", values=Y_TICKS, labels=False, tickSize=15, **AX)),
)

top_layer = alt.Chart(df).mark_point(opacity=0, size=0).encode(
    x=alt.X("day:Q", scale=xs,
            axis=alt.Axis(orient="top", values=MONTH_STARTS, labels=False, tickSize=end_tick, **AX)),
    y=alt.Y("hPa:Q", scale=ys, axis=None),
)


def text_layer(text, x, y, size, font, align="center", baseline="alphabetic", angle=0):
    return alt.Chart(alt.Data(values=[{"t": text}])).mark_text(
        font=font, fontSize=size, align=align, baseline=baseline, angle=angle, color="#000"
    ).encode(x=alt.value(x), y=alt.value(y), text="t:N")


t_hpa = text_layer("hPa", 67.5 - 153, 375 - 22, 21, "Liberation Sans", baseline="middle", angle=270)
t_sub = text_layer("E5", 143 - 153, 849 - 22, 12, "Liberation Serif", align="left")
t_year = text_layer("2014", 682.5 - 153, 875 - 22, 22, TICK_FONT)
t_title = text_layer("Surface Pressure", 682.5 - 153, 922 - 22, 36, TICK_FONT)

chart = alt.layer(
    lines, labels_layer, top_layer, t_hpa, t_sub, t_year, t_title
).resolve_scale(
    x="independent", y="independent"
).properties(
    width=W, height=H, padding=PAD, background="white",
    autosize=alt.AutoSizeParams(type="none"),
).configure_view(stroke=None)

chart.save("out.html", embed_options={"renderer": "svg", "actions": False})
